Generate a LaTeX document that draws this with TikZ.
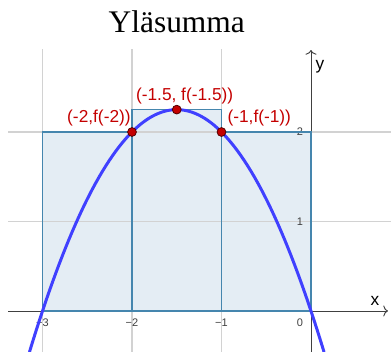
\documentclass[tikz,border=0pt]{standalone}
\usepackage{fontspec}
\newfontfamily\ggbfont{Liberation Sans}
\newfontfamily\titlefont{Liberation Serif}
\usetikzlibrary{arrows.meta,positioning,calc}
\definecolor{GgbBlue}{HTML}{4040FF}
\definecolor{GgbRed}{HTML}{C40000}
\definecolor{DotEdge}{HTML}{500000}
\definecolor{SumFill}{HTML}{E4EDF4}
\definecolor{SumEdge}{HTML}{4586AE}
\definecolor{GridGray}{HTML}{D2D2D2}
\definecolor{AxisGray}{HTML}{404040}

\begin{document}
\begin{tikzpicture}[x=2cm,y=2cm, every node/.style={font=\ggbfont},
  grid/.style={GridGray,line width=0.9pt},
  bar/.style={draw=SumEdge,line width=1pt},
  ax/.style={AxisGray,line width=0.6pt,-{To[length=3pt,width=7pt]}},
  dot/.style={circle,fill=GgbRed,draw=DotEdge,line width=0.5pt,inner sep=0pt,minimum size=5.6pt},
  lbl/.style={GgbRed,font=\ggbfont\fontsize{11}{13}\selectfont,inner sep=0.5pt},
  tick/.style={AxisGray,font=\ggbfont\fontsize{7}{8}\selectfont,inner sep=0pt}]
\useasboundingbox (-3.475,-0.458) rectangle (0.894,3.475);
% upper sum boxes
\fill[SumFill] (-3,0) rectangle (-2,2);
\fill[SumFill] (-2,0) rectangle (-1,2.25);
\fill[SumFill] (-1,0) rectangle (0,2);
% grid
\foreach \g in {-3,-2,-1}
  \draw[grid] (\g,-0.46) -- (\g,2.927);
\foreach \g in {1,2}
  \draw[grid] (-3.385,\g) -- (0.894,\g);
% axes
\coordinate (xl) at (-3.385,0);
\coordinate (xr) at (0.86,0);
\coordinate (yb) at (0,-0.46);
\coordinate (yt) at (0,2.916);
\draw[ax] (xl) -- (xr);
\draw[ax] (yb) -- (yt);
\node[font=\ggbfont\fontsize{11}{13}\selectfont] (xlab) at (0.715,0.11) {x};
\node[font=\ggbfont\fontsize{11}{13}\selectfont] (ylab) at (0.10,2.73) {y};
\foreach \t/\s in {-3/−3,-2/−2,-1/−1}
  \node[tick] (t\t) at (\t,-0.134) {\s};
\node[tick] (t0) at (-0.123,-0.134) {0};
\node[tick] (t1) at (-0.123,1) {1};
\node[tick] (t2) at (-0.123,2) {2};
\draw[bar] (-3,0) rectangle (-2,2);
\draw[bar] (-2,0) rectangle (-1,2.25);
\draw[bar] (-1,0) rectangle (0,2);
% the function -x^2-3x
\draw[GgbBlue,line width=1.9pt,domain=-3.146:0.146,samples=90] plot (\x,{-\x*\x-3*\x});
% points
\node[dot] (pA) at (-2,2) {};
\node[dot] (pM) at (-1.5,2.25) {};
\node[dot] (pB) at (-1,2) {};
\node[lbl,above left=1.2pt and -2pt of pA] (lA) {(-2,f(-2))};
\node[lbl,above=-0.5pt of pM,xshift=5pt] (lM) {(-1.5, f(-1.5))};
\node[lbl,above right=1.2pt and 1pt of pB] (lB) {(-1,f(-1))};
% title
\node[font=\titlefont\fontsize{20}{24}\selectfont,anchor=base] (title) at (-1.5,3.117) {Yläsumma};
\end{tikzpicture}
\end{document}
